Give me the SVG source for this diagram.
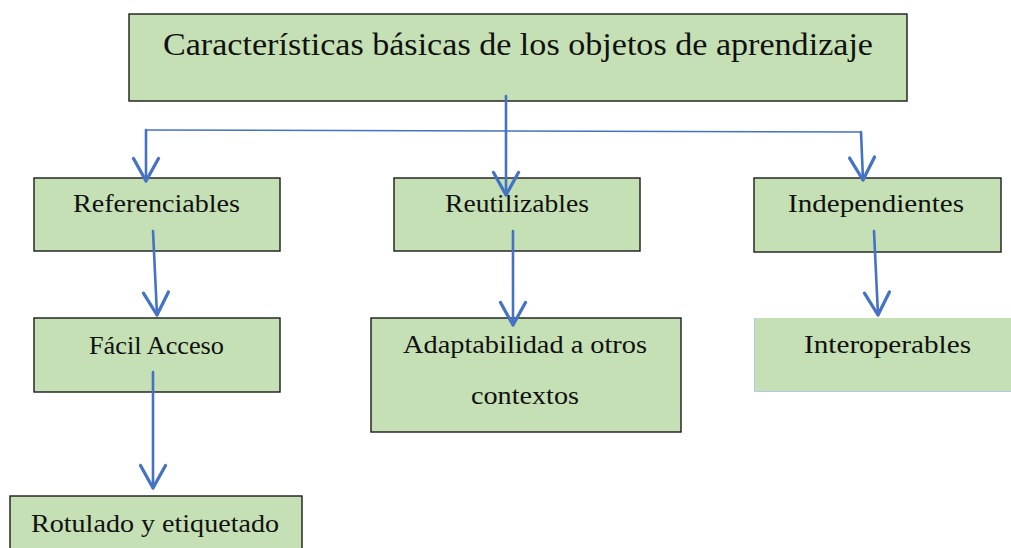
<svg xmlns="http://www.w3.org/2000/svg" width="1011" height="548" viewBox="0 0 1011 548">
<style>
.box{fill:#c5e0b4;stroke:#1a1a1a;stroke-width:1.4}
.t{font-family:"Liberation Serif","DejaVu Serif",serif;fill:#111;font-size:26px}
.title{font-size:32px}
.c{fill:none;stroke:#4472c4;stroke-width:2.6;stroke-linecap:round;stroke-linejoin:round}
.thin{stroke-width:1.6}
</style>
<defs>
<marker id="ah" markerUnits="userSpaceOnUse" markerWidth="30" markerHeight="30" viewBox="-20 -12 22 24" refX="0" refY="0" orient="auto" overflow="visible">
<path d="M-18,-10 L0,0 L-18,10" fill="none" stroke="#4472c4" stroke-width="2.6" stroke-linecap="round" stroke-linejoin="round"/>
</marker>
</defs>
<rect width="1011" height="548" fill="#fff"/>
<g id="n-root"><rect class="box" x="129" y="14" width="778" height="87"/><text class="t title" x="163" y="55" textLength="710" lengthAdjust="spacingAndGlyphs">Características básicas de los objetos de aprendizaje</text></g>
<g id="n-ref"><rect class="box" x="34" y="178" width="246" height="73"/><text class="t" x="73" y="212" textLength="167" lengthAdjust="spacingAndGlyphs">Referenciables</text></g>
<g id="n-reu"><rect class="box" x="394" y="178" width="246" height="73"/><text class="t" x="445" y="212" textLength="144" lengthAdjust="spacingAndGlyphs">Reutilizables</text></g>
<g id="n-ind"><rect class="box" x="754" y="178" width="247" height="74"/><text class="t" x="788" y="212" textLength="176" lengthAdjust="spacingAndGlyphs">Independientes</text></g>
<g id="n-fac"><rect class="box" x="34" y="318" width="246" height="74"/><text class="t" x="89" y="354" textLength="135" lengthAdjust="spacingAndGlyphs">Fácil Acceso</text></g>
<g id="n-ada"><rect class="box" x="371" y="318" width="310" height="114"/><text class="t" x="403" y="353" textLength="244" lengthAdjust="spacingAndGlyphs">Adaptabilidad a otros</text><text class="t" x="471" y="404" textLength="108" lengthAdjust="spacingAndGlyphs">contextos</text></g>
<g id="n-int"><rect x="754" y="318" width="260" height="73" fill="#c5e0b4"/><path d="M754.5,318 V391.5 H1011" fill="none" stroke="#b4c7e7" stroke-width="1"/><text class="t" x="804" y="353" textLength="167" lengthAdjust="spacingAndGlyphs">Interoperables</text></g>
<g id="n-rot"><rect class="box" x="10" y="496" width="292" height="60"/><text class="t" x="31" y="532" textLength="248" lengthAdjust="spacingAndGlyphs">Rotulado y etiquetado</text></g>
<g id="connectors">
<path class="c thin" d="M146,130 L861,132"/>
<path class="c" d="M146,130 L146,181" marker-end="url(#ah)"/>
<path class="c" d="M861,132 L863,180" marker-end="url(#ah)"/>
<path class="c" d="M506,96 L506,195" marker-end="url(#ah)"/>
<path class="c" d="M153,231 L157,315" marker-end="url(#ah)"/>
<path class="c" d="M153,372 L153,488" marker-end="url(#ah)"/>
<path class="c" d="M513,231 L513,325" marker-end="url(#ah)"/>
<path class="c" d="M874,231 L878,315" marker-end="url(#ah)"/>
</g>
</svg>
